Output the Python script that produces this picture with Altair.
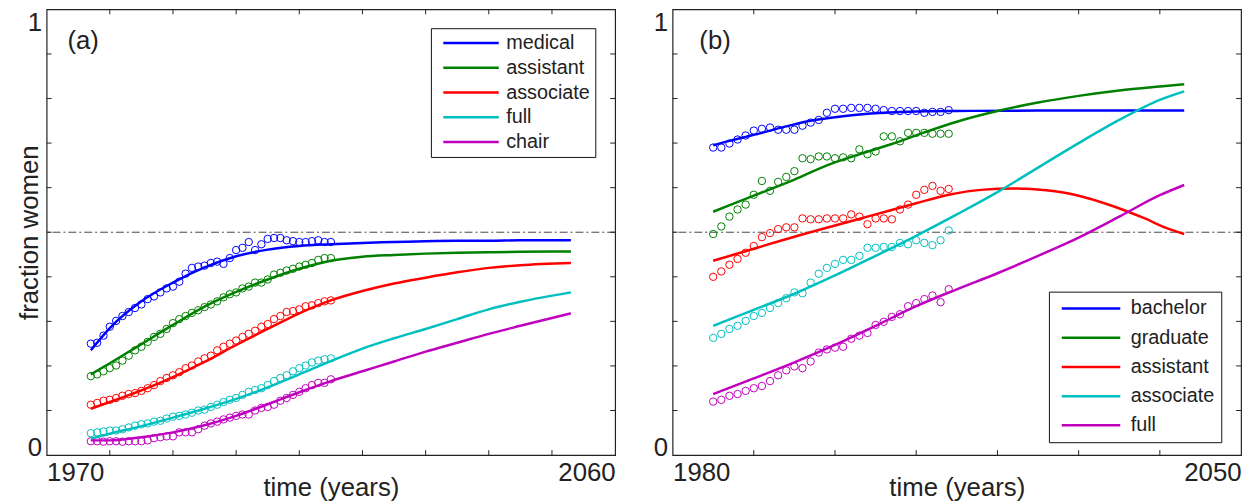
import altair as alt
import pandas as pd

FONT = "Liberation Sans"
TXT = "#222222"
COLORS = ["#0000FF", "#008000", "#FF0000", "#00BFBF", "#BF00BF"]
W, H = 574, 450

# ---------------- panel (a) ----------------
A_SERIES = ["medical", "assistant", "associate", "full", "chair"]
A_OBS_YEARS = list(range(1977, 2016))
A_OBS = {
    "medical": [0.250, 0.252, 0.268, 0.288, 0.301, 0.312, 0.321, 0.330, 0.338, 0.350,
                0.356, 0.365, 0.374, 0.378, 0.389, 0.407, 0.420, 0.423, 0.425, 0.431,
                0.434, 0.429, 0.442, 0.460, 0.465, 0.478, 0.460, 0.473, 0.485, 0.487,
                0.487, 0.482, 0.480, 0.478, 0.478, 0.480, 0.482, 0.478, 0.478],
    "assistant": [0.177, 0.181, 0.188, 0.195, 0.201, 0.212, 0.223, 0.235, 0.243, 0.254,
                  0.265, 0.272, 0.283, 0.296, 0.305, 0.312, 0.319, 0.325, 0.332, 0.338,
                  0.345, 0.354, 0.361, 0.365, 0.374, 0.378, 0.387, 0.387, 0.394, 0.405,
                  0.409, 0.414, 0.418, 0.423, 0.427, 0.431, 0.438, 0.442, 0.442],
    "associate": [0.113, 0.117, 0.122, 0.124, 0.128, 0.133, 0.137, 0.139, 0.144, 0.150,
                  0.157, 0.166, 0.173, 0.179, 0.186, 0.195, 0.201, 0.210, 0.217, 0.223,
                  0.235, 0.243, 0.250, 0.257, 0.265, 0.272, 0.279, 0.288, 0.294, 0.305,
                  0.312, 0.321, 0.323, 0.327, 0.334, 0.336, 0.341, 0.345, 0.347],
    "full": [0.049, 0.051, 0.053, 0.055, 0.055, 0.058, 0.062, 0.066, 0.069, 0.071,
             0.075, 0.077, 0.082, 0.086, 0.088, 0.091, 0.095, 0.100, 0.102, 0.108,
             0.113, 0.119, 0.124, 0.128, 0.135, 0.142, 0.146, 0.150, 0.157, 0.166,
             0.173, 0.179, 0.188, 0.195, 0.201, 0.208, 0.212, 0.215, 0.217],
    "chair": [0.031, 0.031, 0.030, 0.031, 0.031, 0.030, 0.031, 0.031, 0.031, 0.033,
              0.038, 0.040, 0.042, 0.042, 0.051, 0.051, 0.051, 0.058, 0.066, 0.071,
              0.075, 0.080, 0.084, 0.088, 0.091, 0.091, 0.100, 0.106, 0.108, 0.113,
              0.122, 0.128, 0.135, 0.142, 0.150, 0.157, 0.162, 0.162, 0.170],
}
A_FIT_YEARS = [1977, 1980, 1985, 1990, 1995, 2000, 2005, 2010, 2015, 2020, 2025, 2030,
               2035, 2040, 2045, 2053]
A_FIT = {
    "medical": [0.235, 0.285, 0.345, 0.387, 0.421, 0.446, 0.461, 0.469, 0.473, 0.476,
                0.478, 0.480, 0.481, 0.481, 0.482, 0.482],
    "assistant": [0.181, 0.206, 0.249, 0.292, 0.333, 0.366, 0.394, 0.418, 0.436, 0.445,
                  0.449, 0.452, 0.454, 0.455, 0.456, 0.457],
    "associate": [0.104, 0.119, 0.145, 0.175, 0.209, 0.247, 0.283, 0.318, 0.347, 0.368,
                  0.385, 0.398, 0.410, 0.420, 0.426, 0.431],
    "full": [0.037, 0.048, 0.065, 0.084, 0.104, 0.126, 0.152, 0.181, 0.211, 0.239,
             0.262, 0.283, 0.305, 0.327, 0.344, 0.365],
    "chair": [0.033, 0.033, 0.040, 0.051, 0.067, 0.088, 0.114, 0.141, 0.166, 0.188,
              0.210, 0.232, 0.252, 0.272, 0.290, 0.318],
}

# ---------------- panel (b) ----------------
B_SERIES = ["bachelor", "graduate", "assistant", "associate", "full"]
B_OBS_YEARS = list(range(1985, 2015))
B_OBS = {
    "bachelor": [0.690, 0.690, 0.699, 0.708, 0.717, 0.728, 0.732, 0.735, 0.730, 0.730,
                 0.730, 0.739, 0.746, 0.752, 0.768, 0.777, 0.777, 0.779, 0.779, 0.779,
                 0.777, 0.774, 0.772, 0.772, 0.772, 0.772, 0.768, 0.770, 0.770, 0.774],
    "graduate": [0.496, 0.513, 0.535, 0.551, 0.562, 0.584, 0.615, 0.593, 0.613, 0.624,
                 0.637, 0.666, 0.664, 0.670, 0.670, 0.666, 0.668, 0.666, 0.686, 0.675,
                 0.681, 0.715, 0.715, 0.704, 0.723, 0.723, 0.723, 0.721, 0.721, 0.721],
    "assistant": [0.400, 0.412, 0.427, 0.440, 0.454, 0.469, 0.489, 0.498, 0.507, 0.511,
                  0.511, 0.531, 0.529, 0.529, 0.531, 0.531, 0.531, 0.540, 0.535, 0.518,
                  0.531, 0.531, 0.529, 0.551, 0.562, 0.584, 0.595, 0.604, 0.593, 0.597],
    "associate": [0.263, 0.272, 0.283, 0.290, 0.301, 0.312, 0.319, 0.330, 0.341, 0.352,
                  0.365, 0.363, 0.387, 0.407, 0.420, 0.429, 0.438, 0.438, 0.447, 0.465,
                  0.465, 0.467, 0.467, 0.476, 0.473, 0.482, 0.476, 0.471, 0.482, 0.504],
    "full": [0.120, 0.124, 0.133, 0.137, 0.144, 0.150, 0.155, 0.166, 0.179, 0.190,
             0.199, 0.195, 0.210, 0.230, 0.237, 0.241, 0.243, 0.261, 0.268, 0.274,
             0.292, 0.299, 0.310, 0.316, 0.334, 0.341, 0.350, 0.358, 0.343, 0.372],
}
B_FIT = {
    "bachelor": ([1985, 1987, 1989, 1991, 1993, 1995, 1997, 2000, 2003, 2006, 2010, 2015, 2025, 2043],
                 [0.695, 0.705, 0.714, 0.723, 0.733, 0.742, 0.750, 0.758, 0.764, 0.768, 0.771, 0.772, 0.773, 0.773]),
    "graduate": ([1985, 1990, 1995, 1999, 2003, 2007, 2011, 2015, 2020, 2025, 2030, 2035, 2040, 2043],
                 [0.546, 0.582, 0.618, 0.650, 0.675, 0.698, 0.724, 0.748, 0.772, 0.791, 0.806, 0.818, 0.827, 0.832]),
    "assistant": ([1985, 1990, 1995, 2000, 2005, 2010, 2014, 2018, 2022, 2026, 2030, 2034, 2038, 2041, 2043],
                  [0.436, 0.463, 0.490, 0.515, 0.540, 0.565, 0.584, 0.595, 0.598, 0.594, 0.582, 0.560, 0.532, 0.508, 0.496]),
    "associate": ([1985, 1990, 1995, 2000, 2005, 2010, 2015, 2020, 2025, 2030, 2035, 2040, 2043],
                  [0.290, 0.326, 0.362, 0.403, 0.447, 0.492, 0.540, 0.590, 0.645, 0.700, 0.752, 0.797, 0.816]),
    "full": ([1985, 1990, 1995, 2000, 2005, 2010, 2015, 2020, 2025, 2030, 2035, 2040, 2043],
             [0.137, 0.172, 0.208, 0.247, 0.290, 0.334, 0.372, 0.408, 0.447, 0.488, 0.535, 0.583, 0.606]),
}

Y_TICKS = [0.1, 0.2, 0.3, 0.4, 0.5, 0.6, 0.7, 0.8, 0.9]


def panel(series, obs_years, obs, fit, xdom, xticks, tag, tag_year, ytitle, leg):
    obs_df = pd.DataFrame([{"year": y, "value": v, "series": s}
                           for s in series for y, v in zip(obs_years, obs[s])])
    fit_df = pd.DataFrame([{"year": y, "value": v, "series": s}
                           for s in series for y, v in zip(*fit[s])])

    xscale = alt.Scale(domain=xdom, nice=False, zero=False)
    yscale = alt.Scale(domain=[0, 1], nice=False, zero=False)
    xaxis = alt.Axis(values=xdom, format="d", ticks=False, tickSize=0, domain=False, grid=False,
                     labelFont=FONT, labelFontSize=26, labelColor=TXT, labelPadding=5,
                     labelFlush=False, labelOverlap=False,
                     labelAlign={"condition": {"test": "datum.value < 2000", "value": "left"},
                                 "value": "right"},
                     title="time (years)", titleFont=FONT, titleFontSize=26,
                     titleFontWeight="normal", titleColor=TXT, titleX=W / 2, titleY=41,
                     titleAlign="center", titleBaseline="alphabetic")
    ykw = dict(values=[0, 1], format="d", ticks=False, tickSize=0, domain=False, grid=False,
               labelFont=FONT, labelFontSize=26, labelColor=TXT, labelPadding=5,
               labelFlush=False, labelOverlap=False,
               labelBaseline={"condition": {"test": "datum.value == 1", "value": "top"},
                              "value": "alphabetic"})
    if ytitle:
        ykw.update(title=ytitle, titleFont=FONT, titleFontSize=26, titleFontWeight="normal",
                   titleColor=TXT, titleX=-9, titleY=H / 2, titleAngle=270,
                   titleAlign="center", titleBaseline="alphabetic")
    else:
        ykw.update(title=None)
    yaxis = alt.Axis(**ykw)

    X = alt.X("year:Q", scale=xscale, axis=xaxis)
    Y = alt.Y("value:Q", scale=yscale, axis=yaxis)
    legend = alt.Legend(orient="none", legendX=leg["x"], legendY=leg["y"], title=None,
                        symbolType="M-4,0H4", symbolSize=leg["size"], symbolStrokeWidth=2.5,
                        symbolOffset=leg["soff"], labelOffset=leg["loff"],
                        symbolFillColor="transparent", symbolOpacity=1,
                        labelFont=FONT, labelFontSize=20, labelColor=TXT, labelLimit=400,
                        padding=leg["pad"], rowPadding=leg["rpad"],
                        strokeColor="#111111", fillColor="white")
    C = alt.Color("series:N", scale=alt.Scale(domain=series, range=COLORS), legend=legend)

    half = alt.Chart(pd.DataFrame({"value": [0.5]})).mark_rule(
        color="#444444", strokeDash=[8, 3, 2, 3], strokeWidth=1).encode(y=Y)
    pts = alt.Chart(obs_df).mark_point(filled=False, size=56, strokeWidth=1, opacity=1).encode(
        x=X, y=Y, color=C)
    lines = alt.Chart(fit_df).mark_line(strokeWidth=2.5, interpolate="monotone").encode(
        x=X, y=Y, color=C)

    xt = pd.DataFrame({"year": xticks})
    yt = pd.DataFrame({"value": Y_TICKS})
    tk = dict(color=TXT, strokeWidth=1)
    xt_top = alt.Chart(xt).mark_rule(**tk).encode(x=X, y=alt.value(0), y2=alt.value(5))
    xt_bot = alt.Chart(xt).mark_rule(**tk).encode(x=X, y=alt.value(H), y2=alt.value(H - 5))
    yt_l = alt.Chart(yt).mark_rule(**tk).encode(y=Y, x=alt.value(0), x2=alt.value(5))
    yt_r = alt.Chart(yt).mark_rule(**tk).encode(y=Y, x=alt.value(W), x2=alt.value(W - 5))

    lab = alt.Chart(pd.DataFrame({"year": [tag_year], "value": [0.91], "label": [tag]})).mark_text(
        align="left", baseline="alphabetic", font=FONT, fontSize=26, color=TXT).encode(
        x=X, y=Y, text="label:N")

    return alt.layer(half, pts, lines, xt_top, xt_bot, yt_l, yt_r, lab).properties(
        width=W, height=H)


left = panel(A_SERIES, A_OBS_YEARS, A_OBS,
             {s: (A_FIT_YEARS, A_FIT[s]) for s in A_SERIES},
             [1970, 2060], [1980, 1990, 2000, 2010, 2020, 2030, 2040, 2050],
             "(a)", 1973.3, "fraction women",
             dict(x=388, y=19, size=196, soff=25.5, loff=25.5, pad=5, rpad=5))
right = panel(B_SERIES, B_OBS_YEARS, B_OBS, B_FIT,
              [1980, 2050], [1990, 2000, 2010, 2020, 2030, 2040],
              "(b)", 1983.3, None,
              dict(x=380, y=285, size=218, soff=25.5, loff=30, pad=7, rpad=9.5))

chart = alt.hconcat(left, right, spacing=58, bounds="flush").resolve_scale(
    color="independent").resolve_legend(color="independent").properties(
    autosize=alt.AutoSizeParams(type="pad"),
    padding={"left": 8, "top": -3, "right": 5, "bottom": 0},
).configure_view(stroke=TXT, strokeWidth=1.2)

chart.save("out.html", embed_options={"renderer": "svg", "actions": False})
